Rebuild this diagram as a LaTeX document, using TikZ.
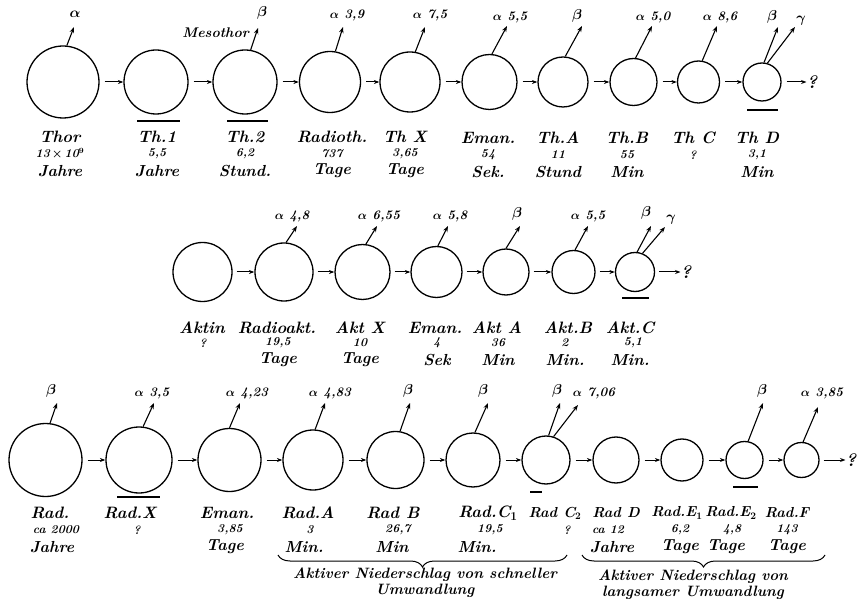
\documentclass[tikz,border=0pt]{standalone}
\usepackage{amsmath}
\usepackage{fontspec}
\usetikzlibrary{arrows.meta,decorations.pathreplacing}
\begin{document}
\begin{tikzpicture}[x=1pt,y=-1pt,
 circ/.style={draw, circle, line width=1.3pt, inner sep=0pt, minimum size=#1},
 flow/.style={-{Stealth[length=5.5pt,width=4pt]}, line width=1pt},
 ray/.style={-{Stealth[length=6pt,width=4.5pt]}, line width=1.1pt},
 nm/.style={font=\fontsize{16.5}{16.5}\selectfont\bfseries\itshape\boldmath, inner sep=0pt},
 nms/.style={font=\fontsize{14.5}{14.5}\selectfont\bfseries\itshape\boldmath, inner sep=0pt},
 nu/.style={font=\fontsize{12}{12}\selectfont\bfseries\itshape\boldmath, inner sep=0pt},
 un/.style={font=\fontsize{16}{16}\selectfont\bfseries\itshape, inner sep=0pt},
 lb/.style={font=\fontsize{13}{13}\selectfont\bfseries\itshape\boldmath, inner sep=0pt},
 gl/.style={font=\fontsize{15}{15}\selectfont\bfseries\itshape\boldmath, inner sep=0pt},
 qm/.style={font=\fontsize{18}{18}\selectfont\bfseries\itshape, inner sep=0pt},
 ul/.style={line width=1.3pt},
 br/.style={decorate, decoration={brace, mirror, amplitude=12pt}, line width=1pt},
 bt/.style={font=\fontsize{15}{16}\selectfont\bfseries\itshape, inner sep=0pt, align=center}]
\useasboundingbox (0,0) rectangle (859,601);

% ---------- top row: thorium ----------
\node[circ=72] (thor) at (63,82) {};
\node[circ=64] (th1) at (156,82) {};
\node[circ=64] (th2) at (245,82) {};
\node[circ=61] (rth) at (330,82) {};
\node[circ=60] (thx) at (410,82) {};
\node[circ=55] (emt) at (489.5,82) {};
\node[circ=50] (tha) at (563,82) {};
\node[circ=47] (thb) at (633.5,82) {};
\node[circ=42] (thc) at (698.5,82) {};
\node[circ=38] (thd) at (762,82) {};
\node[qm] (q1) at (812,82) {?};

\draw[flow] ([xshift=5pt]thor.east) -- (th1.west);
\draw[flow] ([xshift=5pt]th1.east) -- (th2.west);
\draw[flow] ([xshift=5pt]th2.east) -- (rth.west);
\draw[flow] ([xshift=5pt]rth.east) -- (thx.west);
\draw[flow] ([xshift=5pt]thx.east) -- (emt.west);
\draw[flow] ([xshift=5pt]emt.east) -- (tha.west);
\draw[flow] ([xshift=5pt]tha.east) -- (thb.west);
\draw[flow] ([xshift=5pt]thb.east) -- (thc.west);
\draw[flow] ([xshift=5pt]thc.east) -- (thd.west);
\draw[flow] ([xshift=5pt]thd.east) -- (q1.west);

\coordinate (tthor) at (74,27);
\coordinate (tth2) at (258,28);
\coordinate (trth) at (343,27);
\coordinate (tthx) at (425,27);
\coordinate (temt) at (507,26);
\coordinate (ttha) at (582,26);
\coordinate (tthb) at (652,26);
\coordinate (tthc) at (717,26);
\coordinate (tthdb) at (778,27);
\coordinate (tthdg) at (795,27);
\draw[ray] (thor.84) -- (tthor);
\draw[ray] (th2.80) -- (tth2);
\draw[ray] (rth.80) -- (trth);
\draw[ray] (thx.80) -- (tthx);
\draw[ray] (emt.85) -- (temt);
\draw[ray] (tha.85) -- (ttha);
\draw[ray] (thb.85) -- (tthb);
\draw[ray] (thc.80) -- (tthc);
\draw[ray] (thd.84) -- (tthdb);
\draw[ray] (thd.74) -- (tthdg);
\node[gl] (lthor) at (75,14) {$\alpha$};
\node[gl] (lth2) at (262,13) {$\beta$};
\node[font=\fontsize{14}{14}\selectfont\bfseries\itshape, inner sep=0pt, anchor=east] (meso) at (249,33) {Mesothor};
\node[lb] (lrth) at (347,15) {$\alpha$ 3,9};
\node[lb] (lthx) at (430,15) {$\alpha$ 7,5};
\node[lb] (lemt) at (510,17) {$\alpha$ 5,5};
\node[gl] (ltha) at (577,16) {$\beta$};
\node[lb] (lthb) at (653,17) {$\alpha$ 5,0};
\node[lb] (lthc) at (720,17) {$\alpha$ 8,6};
\node[gl] (lthdb) at (772,17) {$\beta$};
\node[gl] (lthdg) at (801,21) {$\gamma$};

\draw[ul] (137,121) -- (180,121);
\draw[ul] (227,121) -- (268,121);
\draw[ul] (747,110) -- (778,110);

\node[nm] (nthor) at (60,137) {Thor};
\node[nu] (vthor) at (60,154) {13\,$\times$\,10$^{9}$};
\node[un] (uthor) at (60,171) {Jahre};
\node[nm] (nth1) at (157,137) {Th.1};
\node[nu] (vth1) at (157,154) {5,5};
\node[un] (uth1) at (157,171) {Jahre};
\node[nm] (nth2) at (245,137) {Th.2};
\node[nu] (vth2) at (245,154) {6,2};
\node[un] (uth2) at (245,171) {Stund.};
\node[nm] (nrth) at (332,137) {Radioth.};
\node[nu] (vrth) at (332,154) {737};
\node[un] (urth) at (332,171) {Tage};
\node[nm] (nthx) at (405,137) {Th X};
\node[nu] (vthx) at (405,154) {3,65};
\node[un] (uthx) at (405,171) {Tage};
\node[nm] (nemt) at (488,138) {Eman.};
\node[nu] (vemt) at (488,155) {54};
\node[un] (uemt) at (488,172) {Sek.};
\node[nm] (ntha) at (558,138) {Th.A};
\node[nu] (vtha) at (558,155) {11};
\node[un] (utha) at (558,172) {Stund};
\node[nm] (nthb) at (627,138) {Th.B};
\node[nu] (vthb) at (627,155) {55};
\node[un] (uthb) at (627,172) {Min};
\node[nm] (nthc) at (693,138) {Th C};
\node[nu] (vthc) at (693,155) {?};
\node[nm] (nthd) at (757,138) {Th D};
\node[nu] (vthd) at (757,155) {3,1};
\node[un] (uthd) at (757,172) {Min};

% ---------- middle row: actinium ----------
\node[circ=59] (akt) at (202.5,272) {};
\node[circ=58] (rak) at (284,272) {};
\node[circ=55] (akx) at (362.5,272) {};
\node[circ=51] (ema) at (436.5,272) {};
\node[circ=46] (aka) at (506,272) {};
\node[circ=43] (akb) at (573.5,272) {};
\node[circ=39] (akc) at (635,272) {};
\node[qm] (q2) at (686,272) {?};

\draw[flow] ([xshift=4pt]akt.east) -- (rak.west);
\draw[flow] ([xshift=4pt]rak.east) -- (akx.west);
\draw[flow] ([xshift=4pt]akx.east) -- (ema.west);
\draw[flow] ([xshift=4pt]ema.east) -- (aka.west);
\draw[flow] ([xshift=4pt]aka.east) -- (akb.west);
\draw[flow] ([xshift=4pt]akb.east) -- (akc.west);
\draw[flow] ([xshift=4pt]akc.east) -- (q2.west);

\coordinate (trak) at (297,226);
\coordinate (takx) at (377,226);
\coordinate (tema) at (448,226);
\coordinate (taka) at (520,226);
\coordinate (takb) at (588,226);
\coordinate (takcb) at (651,226);
\coordinate (takcg) at (665,227);
\draw[ray] (rak.86) -- (trak);
\draw[ray] (akx.83) -- (takx);
\draw[ray] (ema.87) -- (tema);
\draw[ray] (aka.90) -- (taka);
\draw[ray] (akb.86) -- (takb);
\draw[ray] (akc.84) -- (takcb);
\draw[ray] (akc.68) -- (takcg);
\node[lb] (lrak) at (292,216) {$\alpha$ 4,8};
\node[lb] (lakx) at (379,216) {$\alpha$ 6,55};
\node[lb] (lema) at (450,216) {$\alpha$ 5,8};
\node[gl] (laka) at (517,214) {$\beta$};
\node[lb] (lakb) at (588,216) {$\alpha$ 5,5};
\node[gl] (lakcb) at (646,213) {$\beta$};
\node[gl] (lakcg) at (671,220) {$\gamma$};

\draw[ul] (622,298) -- (649,298);

\node[nm] (nakt) at (202,328) {Aktin};
\node[nu] (vakt) at (203,343) {?};
\node[nm] (nrak) at (277,328) {Radioakt.};
\node[nu] (vrak) at (278,343) {19,5};
\node[un] (urak) at (278,360) {Tage};
\node[nm] (nakx) at (360,328) {Akt X};
\node[nu] (vakx) at (360,343) {10};
\node[un] (uakx) at (360,360) {Tage};
\node[nm] (nema) at (435,328) {Eman.};
\node[nu] (vema) at (437,343) {4};
\node[un] (uema) at (437,360) {Sek};
\node[nm] (naka) at (497,328) {Akt A};
\node[nu] (vaka) at (498,343) {36};
\node[un] (uaka) at (498,360) {Min};
\node[nm] (nakb) at (568,328) {Akt.B};
\node[nu] (vakb) at (565,343) {2};
\node[un] (uakb) at (565,360) {Min.};
\node[nm] (nakc) at (630,328) {Akt.C};
\node[nu] (vakc) at (633,343) {5,1};
\node[un] (uakc) at (630,360) {Min.};

% ---------- bottom row: radium ----------
\node[circ=73] (rad) at (45.5,460) {};
\node[circ=66] (rax) at (139,460) {};
\node[circ=63] (emb) at (229.5,460) {};
\node[circ=60] (raa) at (313,460) {};
\node[circ=57] (rab) at (395.5,460) {};
\node[circ=54] (rc1) at (473,460) {};
\node[circ=48] (rc2) at (546,460) {};
\node[circ=46] (rdd) at (616,460) {};
\node[circ=42] (re1) at (682,460) {};
\node[circ=37] (re2) at (744.5,460) {};
\node[circ=35] (rff) at (801.5,460) {};
\node[qm] (q3) at (851,460) {?};

\draw[flow] ([xshift=5pt]rad.east) -- (rax.west);
\draw[flow] ([xshift=5pt]rax.east) -- (emb.west);
\draw[flow] ([xshift=5pt]emb.east) -- (raa.west);
\draw[flow] ([xshift=5pt]raa.east) -- (rab.west);
\draw[flow] ([xshift=5pt]rab.east) -- (rc1.west);
\draw[flow] ([xshift=5pt]rc1.east) -- (rc2.west);
\draw[flow] ([xshift=5pt]rc2.east) -- (rdd.west);
\draw[flow] ([xshift=5pt]rdd.east) -- (re1.west);
\draw[flow] ([xshift=5pt]re1.east) -- (re2.west);
\draw[flow] ([xshift=5pt]re2.east) -- (rff.west);
\draw[flow] ([xshift=4pt]rff.east) -- (q3.west);

\coordinate (trad) at (57,403);
\coordinate (trax) at (154,403);
\coordinate (temb) at (240,403);
\coordinate (traa) at (325,403);
\coordinate (trab) at (410,403);
\coordinate (trc1) at (488,403);
\coordinate (trc2b) at (560,403);
\coordinate (trc2a) at (578,405);
\coordinate (tre2) at (763,403);
\coordinate (trff) at (818,407);
\draw[ray] (rad.83) -- (trad);
\draw[ray] (rax.83) -- (trax);
\draw[ray] (emb.90) -- (temb);
\draw[ray] (raa.86) -- (traa);
\draw[ray] (rab.81) -- (trab);
\draw[ray] (rc1.86) -- (trc1);
\draw[ray] (rc2.84) -- (trc2b);
\draw[ray] (rc2.72) -- (trc2a);
\draw[ray] (re2.79) -- (tre2);
\draw[ray] (rff.85) -- (trff);
\node[gl] (lrad) at (51,391) {$\beta$};
\node[lb] (lrax) at (152,393) {$\alpha$ 3,5};
\node[lb] (lemb) at (247,393) {$\alpha$ 4,23};
\node[lb] (lraa) at (330,393) {$\alpha$ 4,83};
\node[gl] (lrab) at (408,391) {$\beta$};
\node[gl] (lrc1) at (483,391) {$\beta$};
\node[gl] (lrc2b) at (557,391) {$\beta$};
\node[lb] (lrc2a) at (594,393) {$\alpha$ 7,06};
\node[gl] (lre2) at (762,391) {$\beta$};
\node[lb] (lrff) at (822,393) {$\alpha$ 3,85};

\draw[ul] (117,497) -- (160,497);
\draw[ul] (530,492) -- (542,492);
\draw[ul] (733,487) -- (758,487);

\node[nm] (nrad) at (50,513) {Rad.};
\node[nu] (vrad) at (56,530) {ca 2000};
\node[un] (urad) at (52,547) {Jahre};
\node[nm] (nrax) at (130,513) {Rad.X};
\node[nu] (vrax) at (137,530) {?};
\node[nm] (nemb) at (227,513) {Eman.};
\node[nu] (vemb) at (230,530) {3,85};
\node[un] (uemb) at (225,547) {Tage};
\node[nm] (nraa) at (308,513) {Rad.A};
\node[nu] (vraa) at (310,530) {3};
\node[un] (uraa) at (304,547) {Min.};
\node[nm] (nrab) at (393,513) {Rad B};
\node[nu] (vrab) at (398,530) {26,7};
\node[un] (urab) at (392,547) {Min};
\node[nm] (nrc1) at (488,513) {Rad.C$_1$};
\node[nu] (vrc1) at (490,530) {19,5};
\node[un] (urc1) at (477,547) {Min.};
\node[nms] (nrc2) at (555,513) {Rad C$_2$};
\node[nu] (vrc2) at (567,530) {?};
\node[nms] (nrdd) at (616,513) {Rad D};
\node[nu] (vrdd) at (608,530) {ca 12};
\node[un] (urdd) at (612,547) {Jahre};
\node[nms] (nre1) at (677,513) {Rad.E$_1$};
\node[nu] (vre1) at (680,530) {6,2};
\node[un] (ure1) at (680,547) {Tage};
\node[nms] (nre2) at (731,513) {Rad.E$_2$};
\node[nu] (vre2) at (732,530) {4,8};
\node[un] (ure2) at (726,547) {Tage};
\node[nms] (nrff) at (787,513) {Rad.F};
\node[nu] (vrff) at (787,530) {143};
\node[un] (urff) at (787,547) {Tage};

% ---------- braces ----------
\coordinate (b1l) at (278,555);
\coordinate (b1r) at (567,555);
\coordinate (b2l) at (582,555);
\coordinate (b2r) at (825,555);
\draw[br] (b1l) -- (b1r);
\draw[br] (b2l) -- (b2r);
\node[bt] (t1) at (425,583) {Aktiver Niederschlag von schneller\\Umwandlung};
\node[bt] (t2) at (693,585) {Aktiver Niederschlag von\\langsamer Umwandlung};
\end{tikzpicture}
\end{document}
